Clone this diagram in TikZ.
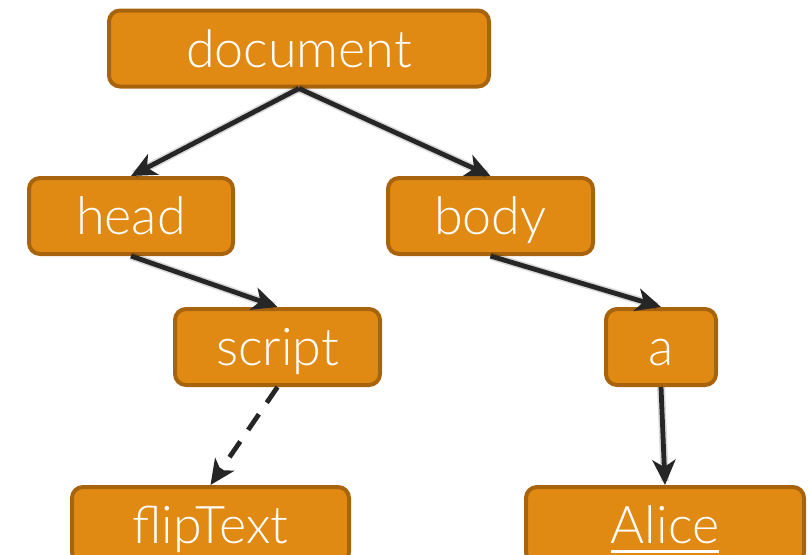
\documentclass[tikz,border=0pt]{standalone}
\usepackage{fontspec}
\setmainfont{Lato Light}
\usetikzlibrary{arrows.meta}
\definecolor{boxfill}{RGB}{225,138,19}
\definecolor{boxedge}{RGB}{168,100,13}
\definecolor{linkcol}{RGB}{38,38,38}
% underlined word with a thick rule
\newcommand\ulword[1]{\setbox0\hbox{#1}\rlap{\rule[-9pt]{\wd0}{3pt}}\box0}
\tikzset{
  tag/.style={draw=boxedge, fill=boxfill, line width=4pt, rounded corners=11pt,
    text=white, font=\fontsize{52}{52}\selectfont, inner sep=0pt,
    minimum height=76pt, text height=37pt, text depth=0pt, anchor=center},
  link/.style={draw=linkcol, line width=4.8pt,
    -{Stealth[length=25pt,width=23pt,inset=7pt]}},
  halo/.style={draw=black, opacity=0.15, line width=8pt, shorten >=4pt},
  dashlink/.style={link, dash pattern=on 19pt off 14pt}
}
\begin{document}
\begin{tikzpicture}[x=1pt,y=-1pt]
\useasboundingbox (0,0) rectangle (810,554);
\node[tag, minimum width=380pt] (doc) at (299,48.5) {document};
\node[tag, minimum width=204pt] (head) at (131,216) {head};
\node[tag, minimum width=205pt] (body) at (490.5,216) {body};
\node[tag, minimum width=205pt] (script) at (277.5,347) {script};
\node[tag, minimum width=110pt] (a) at (661,347) {a};
\node[tag, minimum width=277pt] (flip) at (210.5,525) {flipText};
\node[tag, minimum width=278pt] (alice) at (665,525) {\ulword{Alice}};
% soft shadows under the links
\begin{scope}[shift={(2,3)}]
\draw[halo] (doc.south) -- (head.north);
\draw[halo] (doc.south) -- (body.north);
\draw[halo] (head.south) -- (script.north);
\draw[halo] (body.south) -- (a.north);
\draw[halo] (a.south) -- (alice.north);
\end{scope}
\draw[link] (doc.south) -- (head.north);
\draw[link] (doc.south) -- (body.north);
\draw[link] (head.south) -- (script.north);
\draw[link] (body.south) -- (a.north);
\draw[dashlink] (script.south) -- (flip.north);
\draw[link] (a.south) -- (alice.north);
\end{tikzpicture}
\end{document}
